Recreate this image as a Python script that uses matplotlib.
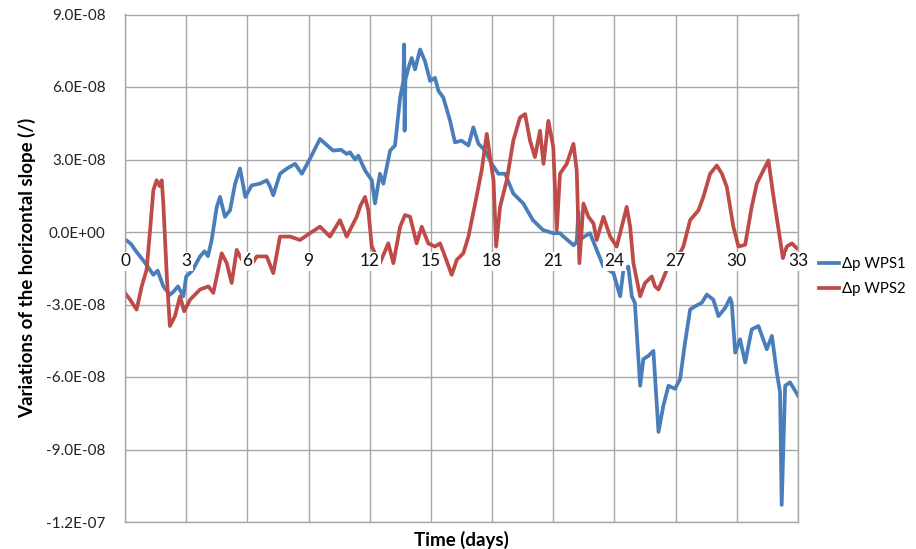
import numpy as np
import matplotlib
matplotlib.use("Agg")
import matplotlib.pyplot as plt

plt.rcParams['font.family'] = ['Lato', 'DejaVu Sans']

# Time axis ticks (days) and value axis ticks
x_ticks = [0, 3, 6, 9, 12, 15, 18, 21, 24, 27, 30, 33]
x_tick_labels = [str(t) for t in x_ticks]
y_ticks = [9e-8, 6e-8, 3e-8, 0.0, -3e-8, -6e-8, -9e-8, -1.2e-7]
y_tick_labels = ["9.0E-08", "6.0E-08", "3.0E-08", "0.0E+00",
                 "-3.0E-08", "-6.0E-08", "-9.0E-08", "-1.2E-07"]

# Δp WPS1 (days, slope in units of 1e-8)
wps1_days = [0.0, 0.3, 0.5, 0.98, 1.39, 1.6, 1.88, 2.2, 2.4, 2.6, 2.86, 3.0, 3.3,
             3.68, 3.9, 4.07, 4.25, 4.5, 4.66, 4.9, 5.15, 5.4, 5.64, 5.9, 6.21,
             6.62, 6.95, 7.1, 7.27, 7.6, 7.93, 8.34, 8.67, 9.07, 9.56, 10.2, 10.6,
             10.87, 11.03, 11.28, 11.44, 11.77, 12.1, 12.26, 12.5, 12.67, 13.0,
             13.24, 13.49, 13.65, 13.69, 13.71, 13.75, 13.9, 14.06, 14.22, 14.47,
             14.71, 14.96, 15.2, 15.37, 15.61, 15.94, 16.18, 16.5, 16.84, 17.08,
             17.33, 17.66, 17.98, 18.31, 18.64, 19.04, 19.53, 20.0, 20.5, 21.0,
             21.33, 21.5, 22.0, 22.15, 22.23, 22.3, 22.5, 22.8, 23.13, 23.46,
             23.95, 24.28, 24.44, 24.68, 24.85, 25.0, 25.26, 25.42, 25.67, 25.91,
             26.16, 26.4, 26.65, 26.97, 27.22, 27.46, 27.71, 27.96, 28.28, 28.53,
             28.85, 29.1, 29.43, 29.67, 29.75, 29.92, 30.16, 30.41, 30.73, 31.06,
             31.47, 31.72, 31.96, 32.12, 32.2, 32.37, 32.61, 33.0]
wps1_vals = [-0.3, -0.5, -0.75, -1.27, -1.77, -1.6, -2.25, -2.6, -2.45, -2.25,
             -2.66, -1.84, -1.6, -1.01, -0.8, -1.0, -0.33, 1.04, 1.45, 0.63, 0.9,
             2.0, 2.63, 1.45, 1.93, 2.0, 2.14, 1.9, 1.52, 2.41, 2.62, 2.82, 2.41,
             3.03, 3.85, 3.37, 3.4, 3.23, 3.3, 3.0, 3.16, 2.55, 2.14, 1.18, 2.41,
             2.0, 3.37, 3.58, 5.56, 6.25, 7.76, 4.19, 6.3, 6.8, 7.2, 6.73, 7.55,
             7.07, 6.25, 6.38, 5.84, 5.56, 4.6, 3.71, 3.78, 3.58, 4.33, 3.65, 3.37,
             2.82, 2.41, 2.41, 1.59, 1.18, 0.49, 0.08, -0.05, -0.05, -0.19, -0.55,
             -0.4, 0.83, -0.33, -0.2, -0.05, -0.74, -1.43, -1.7, -2.66, -1.56,
             -1.43, -2.66, -2.93, -6.36, -5.26, -5.12, -4.92, -8.27, -7.18, -6.36,
             -6.49, -6.08, -4.58, -3.21, -3.07, -2.93, -2.59, -2.8, -3.48, -3.14,
             -2.73, -2.93, -4.99, -4.44, -5.4, -4.03, -3.89, -4.85, -4.3, -5.81,
             -6.63, -11.29, -6.36, -6.22, -6.77]

# Δp WPS2 (days, slope in units of 1e-8)
wps2_days = [0.0, 0.25, 0.57, 0.82, 1.06, 1.23, 1.39, 1.55, 1.7, 1.8, 1.88, 2.05,
             2.2, 2.45, 2.7, 2.9, 3.19, 3.68, 4.09, 4.33, 4.74, 4.99, 5.23, 5.48,
             5.64, 6.05, 6.46, 6.95, 7.27, 7.6, 8.1, 8.58, 9.07, 9.56, 10.05,
             10.54, 10.87, 11.2, 11.36, 11.55, 11.77, 11.93, 12.1, 12.5, 12.91,
             13.16, 13.49, 13.73, 13.98, 14.3, 14.55, 14.87, 15.2, 15.45, 15.69,
             16.02, 16.27, 16.59, 16.84, 17.17, 17.49, 17.74, 17.9, 18.07, 18.2,
             18.39, 18.72, 19.04, 19.37, 19.62, 19.86, 20.1, 20.35, 20.52, 20.76,
             21.0, 21.17, 21.33, 21.66, 21.99, 22.15, 22.28, 22.48, 22.72, 22.97,
             23.13, 23.46, 23.79, 24.11, 24.44, 24.6, 24.77, 24.93, 25.26, 25.5,
             25.83, 25.99, 26.16, 26.57, 26.8, 27.2, 27.38, 27.71, 28.12, 28.36,
             28.69, 29.02, 29.27, 29.51, 29.83, 30.08, 30.41, 30.73, 30.98, 31.3,
             31.55, 31.8, 32.05, 32.26, 32.45, 32.7, 32.94]
wps2_vals = [-2.52, -2.8, -3.21, -2.25, -1.56, 0.08, 1.73, 2.14, 1.9, 2.14, 1.18,
             -1.84, -3.89, -3.48, -2.66, -3.28, -2.8, -2.38, -2.25, -2.52, -0.88,
             -1.29, -2.11, -0.74, -1.01, -1.56, -1.01, -1.01, -1.7, -0.19, -0.19,
             -0.33, -0.05, 0.22, -0.19, 0.49, -0.19, 0.36, 0.63, 1.1, 1.45, 0.9,
             -0.6, -1.29, -0.47, -1.29, 0.22, 0.7, 0.63, -0.47, 0.22, -0.47, -0.6,
             -0.47, -1.01, -1.77, -1.15, -0.88, -0.19, 1.18, 2.55, 4.06, 3.1, 2.14,
             -0.6, 1.04, 2.14, 3.78, 4.74, 4.88, 3.78, 3.1, 4.19, 2.82, 4.6, 3.51,
             0.08, 2.41, 2.82, 3.65, 2.55, -1.29, 1.18, 0.63, 0.36, -0.33, 0.63,
             -0.19, -0.6, 0.49, 1.04, 0.22, -1.29, -2.66, -2.11, -1.84, -2.25,
             -2.38, -1.56, -1.2, -0.9, -0.6, 0.49, 0.9, 1.45, 2.41, 2.75, 2.41,
             1.86, 0.22, -0.6, -0.53, 1.04, 2.0, 2.55, 2.96, 1.45, 0.08, -1.08,
             -0.6, -0.47, -0.67]

series_labels = ["Δp WPS1", "Δp WPS2"]
series_colors = ["#4A7EBB", "#BE4B48"]
grid_color = "#A6A6A6"

fig = plt.figure(figsize=(9.16, 5.49), dpi=100)
ax = fig.add_axes([125 / 916, 1 - 522 / 549, (798 - 125) / 916, (522 - 14.5) / 549])

ax.plot(wps1_days, np.array(wps1_vals) * 1e-8, color=series_colors[0],
        lw=2.7, label=series_labels[0], zorder=2, solid_joinstyle='round')
ax.plot(wps2_days, np.array(wps2_vals) * 1e-8, color=series_colors[1],
        lw=2.7, label=series_labels[1], zorder=2, solid_joinstyle='round')

ax.set_xlim(0, 33)
ax.set_ylim(-1.2e-7, 9e-8)
ax.set_xticks(x_ticks)
ax.set_xticklabels([])
ax.set_yticks(y_ticks)
ax.set_yticklabels(y_tick_labels, fontsize=11, color="#222222")
ax.tick_params(axis='both', length=0)
ax.tick_params(axis='y', pad=14)
ax.grid(True, color=grid_color, lw=1.0)
ax.set_axisbelow(True)
for sp in ax.spines.values():
    sp.set_color(grid_color)
    sp.set_linewidth(1.0)

# category labels sit just under the zero line, drawn over the curves
label_baseline = -1.42e-8
for t, lbl in zip(x_ticks, x_tick_labels):
    ax.text(t, label_baseline, lbl, ha='center', va='baseline', fontsize=12.5,
            color="#111111", zorder=5, clip_on=False,
            bbox=dict(boxstyle='square,pad=0.08', fc='white', ec='none'))

ax.set_xlabel("Time (days)", fontsize=13.5, fontweight='bold', labelpad=3)
ax.set_ylabel("Variations of the horizontal slope (/)", fontsize=13.5,
              fontweight='bold', labelpad=7)

fig.legend(loc='upper left', bbox_to_anchor=(819 / 916, 1 - 257 / 549),
           frameon=False, fontsize=10.8, handlelength=1.35, handletextpad=0.2,
           labelspacing=0.75, borderpad=0, borderaxespad=0)

fig.savefig("out.png", dpi=100)
